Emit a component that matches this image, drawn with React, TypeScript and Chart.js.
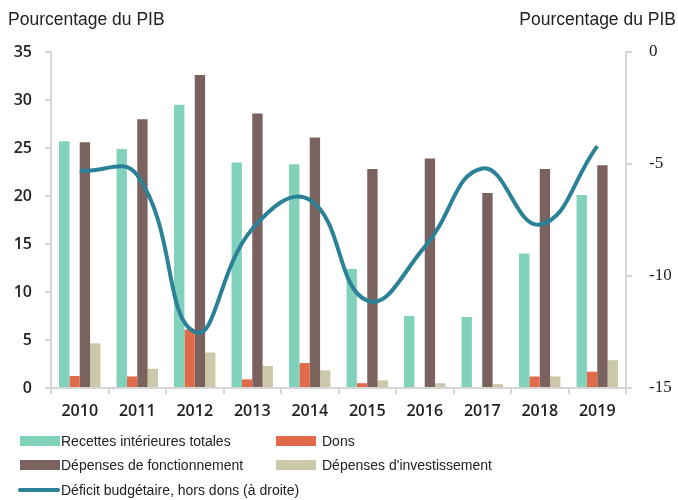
import React, { useEffect, useRef } from "react";
import { Chart, registerables } from "chart.js";

Chart.register(...registerables);

const years = ["2010", "2011", "2012", "2013", "2014", "2015", "2016", "2017", "2018", "2019"];
const recettes = [25.7, 24.9, 29.5, 23.5, 23.3, 12.4, 7.5, 7.4, 14.0, 20.1];
const dons = [1.25, 1.2, 6.1, 0.9, 2.6, 0.5, 0, 0, 1.2, 1.7];
const fonctionnement = [25.6, 28.0, 32.6, 28.6, 26.1, 22.8, 23.9, 20.3, 22.8, 23.2];
const investissement = [4.65, 2.0, 3.7, 2.3, 1.85, 0.8, 0.5, 0.4, 1.2, 2.9];
const deficit = [-5.3, -5.5, -12.5, -7.9, -6.6, -11.1, -8.7, -5.2, -7.7, -4.2];

const leftTicks = [0, 5, 10, 15, 20, 25, 30, 35];
const rightTicks = [-15, -10, -5, 0];

const C_GREEN = "#80d2bb";
const C_ORANGE = "#e06a4a";
const C_BROWN = "#7a625e";
const C_BEIGE = "#cbc9a9";
const C_LINE = "#2b8198";
const AXIS = "#d6d6d6";
const TXT = "#222222";

const legendFont = "'Liberation Sans', Arial, sans-serif";

export default function App() {
  const ref = useRef<HTMLCanvasElement | null>(null);
  useEffect(() => {
    if (!ref.current) return;
    const tickFont = { family: "'Open Sans', 'Liberation Sans', sans-serif", size: 16, weight: "600" as any };
    const rightFont = { family: "'Liberation Serif', serif", size: 17, weight: "normal" as any };
    const chart = new Chart(ref.current, {
      type: "bar",
      data: {
        labels: years,
        datasets: [
          { label: "Recettes intérieures totales", data: recettes, backgroundColor: C_GREEN, yAxisID: "y", order: 1 },
          { label: "Dons", data: dons, backgroundColor: C_ORANGE, yAxisID: "y", order: 1 },
          { label: "Dépenses de fonctionnement", data: fonctionnement, backgroundColor: C_BROWN, yAxisID: "y", order: 1 },
          { label: "Dépenses d'investissement", data: investissement, backgroundColor: C_BEIGE, yAxisID: "y", order: 1 },
          {
            type: "line" as any,
            label: "Déficit budgétaire, hors dons (à droite)",
            data: deficit,
            borderColor: C_LINE,
            backgroundColor: C_LINE,
            borderWidth: 4,
            tension: 0.45,
            pointRadius: 0,
            yAxisID: "y2",
            order: 0,
          } as any,
        ],
      },
      options: {
        responsive: false,
        animation: false,
        events: [],
        layout: { padding: { top: 52, left: 0, right: 0, bottom: 0 } },
        datasets: { bar: { categoryPercentage: 0.72, barPercentage: 1.0 } } as any,
        plugins: { legend: { display: false }, tooltip: { enabled: false } },
        scales: {
          x: {
            grid: { drawOnChartArea: false, offset: true, color: AXIS, tickLength: 6, lineWidth: 2 },
            border: { color: AXIS, width: 2 },
            ticks: { color: TXT, font: tickFont, padding: 8, maxRotation: 0 },
            afterFit: (s: any) => { s.height = 112; },
          },
          y: {
            position: "left",
            min: 0,
            max: 35,
            afterBuildTicks: (s: any) => { s.ticks = leftTicks.map((v) => ({ value: v })); },
            grid: { drawOnChartArea: false, color: AXIS, tickLength: 6, lineWidth: 2 },
            border: { color: AXIS, width: 2 },
            ticks: { color: TXT, font: tickFont, padding: 13 },
            afterFit: (s: any) => { s.width = 51; },
          },
          y2: {
            position: "right",
            min: -15,
            max: 0,
            afterBuildTicks: (s: any) => { s.ticks = rightTicks.map((v) => ({ value: v })); },
            grid: { drawOnChartArea: false, color: AXIS, tickLength: 6, lineWidth: 2 },
            border: { color: AXIS, width: 2 },
            ticks: { color: TXT, font: rightFont, padding: 17 },
            afterFit: (s: any) => { s.width = 52; },
          },
        },
      },
    });
    return () => chart.destroy();
  }, []);

  const legendItems = [
    { label: "Recettes intérieures totales", color: C_GREEN, x: 20, y: 441, line: false },
    { label: "Dons", color: C_ORANGE, x: 276, y: 441, line: false },
    { label: "Dépenses de fonctionnement", color: C_BROWN, x: 20, y: 465, line: false },
    { label: "Dépenses d'investissement", color: C_BEIGE, x: 276, y: 465, line: false },
    { label: "Déficit budgétaire, hors dons (à droite)", color: C_LINE, x: 18, y: 490, line: true },
  ];

  return (
    <div style={{ position: "absolute", left: 0, top: 0, width: 678, height: 500, background: "#fff" }}>
      <canvas ref={ref} width={678} height={500} style={{ position: "absolute", left: 0, top: 0 }} />
      <div style={{ position: "absolute", left: 8, top: 9, font: `17.5px ${legendFont}`, color: TXT, whiteSpace: "nowrap" }}>
        Pourcentage du PIB
      </div>
      <div style={{ position: "absolute", right: 2, top: 9, font: `17.5px ${legendFont}`, color: TXT, whiteSpace: "nowrap" }}>
        Pourcentage du PIB
      </div>
      {legendItems.map((it) => (
        <div key={it.label} style={{ position: "absolute", left: it.x, top: it.y - 10, height: 20, display: "flex", alignItems: "center", whiteSpace: "nowrap" }}>
          <div style={{ width: it.line ? 42 : 40, height: it.line ? 4 : 10, background: it.color, borderRadius: it.line ? 2 : 0, marginRight: it.x === 276 ? 6 : 1 }} />
          <span style={{ font: `14px ${legendFont}`, color: TXT }}>{it.label}</span>
        </div>
      ))}
    </div>
  );
}
